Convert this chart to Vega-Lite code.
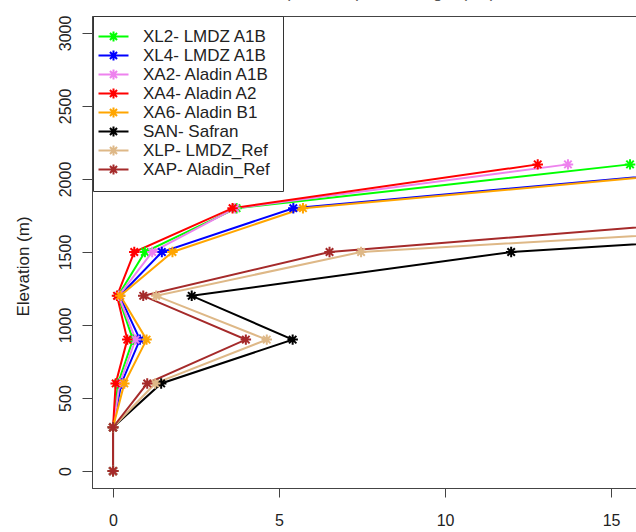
{
  "$schema": "https://vega.github.io/schema/vega-lite/v6.json",
  "autosize": {"type": "none"},
  "padding": {"left": 92, "top": 16, "right": -5, "bottom": 44},
  "width": 549,
  "height": 472,
  "title": {"text": "Mean (Nov-Mar) snow height (cm)", "fontSize": 17, "font": "Liberation Sans", "fontWeight": "normal", "color": "#555555", "offset": 0, "baseline": "alphabetic", "anchor": "middle"},
  "config": {
    "view": {"stroke": "#444444", "strokeWidth": 1},
    "font": "Liberation Sans",
    "axis": {"domainColor": "#444444", "tickColor": "#444444", "labelColor": "#222222", "labelFont": "Liberation Sans", "labelFontSize": 16, "grid": false}
  },
  "data": {"values": [
    {"series": "XL2- LMDZ A1B", "elev": 0, "snow": 0},
    {"series": "XL2- LMDZ A1B", "elev": 300, "snow": 0},
    {"series": "XL2- LMDZ A1B", "elev": 600, "snow": 0.15},
    {"series": "XL2- LMDZ A1B", "elev": 900, "snow": 0.6},
    {"series": "XL2- LMDZ A1B", "elev": 1200, "snow": 0.15},
    {"series": "XL2- LMDZ A1B", "elev": 1500, "snow": 0.96},
    {"series": "XL2- LMDZ A1B", "elev": 1800, "snow": 3.72},
    {"series": "XL2- LMDZ A1B", "elev": 2100, "snow": 15.57},
    {"series": "XL4- LMDZ A1B", "elev": 0, "snow": 0},
    {"series": "XL4- LMDZ A1B", "elev": 300, "snow": 0},
    {"series": "XL4- LMDZ A1B", "elev": 600, "snow": 0.25},
    {"series": "XL4- LMDZ A1B", "elev": 900, "snow": 0.81},
    {"series": "XL4- LMDZ A1B", "elev": 1200, "snow": 0.2},
    {"series": "XL4- LMDZ A1B", "elev": 1500, "snow": 1.47},
    {"series": "XL4- LMDZ A1B", "elev": 1800, "snow": 5.43},
    {"series": "XL4- LMDZ A1B", "elev": 2100, "snow": 20.0},
    {"series": "XA2- Aladin A1B", "elev": 0, "snow": 0},
    {"series": "XA2- Aladin A1B", "elev": 300, "snow": 0},
    {"series": "XA2- Aladin A1B", "elev": 600, "snow": 0.2},
    {"series": "XA2- Aladin A1B", "elev": 900, "snow": 0.68},
    {"series": "XA2- Aladin A1B", "elev": 1200, "snow": 0.17},
    {"series": "XA2- Aladin A1B", "elev": 1500, "snow": 1.18},
    {"series": "XA2- Aladin A1B", "elev": 1800, "snow": 3.68},
    {"series": "XA2- Aladin A1B", "elev": 2100, "snow": 13.7},
    {"series": "XA4- Aladin A2", "elev": 0, "snow": 0},
    {"series": "XA4- Aladin A2", "elev": 300, "snow": 0},
    {"series": "XA4- Aladin A2", "elev": 600, "snow": 0.08},
    {"series": "XA4- Aladin A2", "elev": 900, "snow": 0.43},
    {"series": "XA4- Aladin A2", "elev": 1200, "snow": 0.12},
    {"series": "XA4- Aladin A2", "elev": 1500, "snow": 0.64},
    {"series": "XA4- Aladin A2", "elev": 1800, "snow": 3.6},
    {"series": "XA4- Aladin A2", "elev": 2100, "snow": 12.79},
    {"series": "XA6- Aladin B1", "elev": 0, "snow": 0},
    {"series": "XA6- Aladin B1", "elev": 300, "snow": 0},
    {"series": "XA6- Aladin B1", "elev": 600, "snow": 0.34},
    {"series": "XA6- Aladin B1", "elev": 900, "snow": 1.01},
    {"series": "XA6- Aladin B1", "elev": 1200, "snow": 0.22},
    {"series": "XA6- Aladin B1", "elev": 1500, "snow": 1.79},
    {"series": "XA6- Aladin B1", "elev": 1800, "snow": 5.72},
    {"series": "XA6- Aladin B1", "elev": 2100, "snow": 20.3},
    {"series": "SAN- Safran", "elev": 0, "snow": 0},
    {"series": "SAN- Safran", "elev": 300, "snow": 0},
    {"series": "SAN- Safran", "elev": 600, "snow": 1.45},
    {"series": "SAN- Safran", "elev": 900, "snow": 5.41},
    {"series": "SAN- Safran", "elev": 1200, "snow": 2.37},
    {"series": "SAN- Safran", "elev": 1500, "snow": 11.99},
    {"series": "SAN- Safran", "elev": 1800, "snow": 33.0},
    {"series": "XLP- LMDZ_Ref", "elev": 0, "snow": 0},
    {"series": "XLP- LMDZ_Ref", "elev": 300, "snow": 0},
    {"series": "XLP- LMDZ_Ref", "elev": 600, "snow": 1.27},
    {"series": "XLP- LMDZ_Ref", "elev": 900, "snow": 4.63},
    {"series": "XLP- LMDZ_Ref", "elev": 1200, "snow": 1.3},
    {"series": "XLP- LMDZ_Ref", "elev": 1500, "snow": 7.47},
    {"series": "XLP- LMDZ_Ref", "elev": 1800, "snow": 30.0},
    {"series": "XAP- Aladin_Ref", "elev": 0, "snow": 0},
    {"series": "XAP- Aladin_Ref", "elev": 300, "snow": 0},
    {"series": "XAP- Aladin_Ref", "elev": 600, "snow": 1.03},
    {"series": "XAP- Aladin_Ref", "elev": 900, "snow": 4.0},
    {"series": "XAP- Aladin_Ref", "elev": 1200, "snow": 0.91},
    {"series": "XAP- Aladin_Ref", "elev": 1500, "snow": 6.52},
    {"series": "XAP- Aladin_Ref", "elev": 1800, "snow": 23.0}
  ]},
  "encoding": {
    "x": {"field": "snow", "type": "quantitative", "scale": {"domain": [-0.633, 15.9], "nice": false, "zero": false},
      "axis": {"values": [0, 5, 10, 15], "format": "d", "title": null, "tickSize": 9, "labelPadding": 15, "labelBaseline": "top"}},
    "y": {"field": "elev", "type": "quantitative", "scale": {"domain": [-116, 3116], "nice": false, "zero": false},
      "axis": {"values": [0, 500, 1000, 1500, 2000, 2500, 3000], "format": "d", "title": "Elevation (m)", "titleFont": "Liberation Sans", "titleFontSize": 17, "titleFontWeight": "normal", "titleColor": "#222222", "titleX": -60, "titleY": 250, "titleAlign": "center", "titleBaseline": "bottom", "titleAngle": -90, "tickSize": 10, "labelPadding": 12, "labelAngle": -90, "labelAlign": "center", "labelBaseline": "alphabetic"}},
    "color": {"field": "series", "type": "nominal",
      "scale": {"domain": ["XL2- LMDZ A1B", "XL4- LMDZ A1B", "XA2- Aladin A1B", "XA4- Aladin A2", "XA6- Aladin B1", "SAN- Safran", "XLP- LMDZ_Ref", "XAP- Aladin_Ref"],
        "range": ["#00ff00", "#0000ff", "#ee82ee", "#ff0000", "#ffa500", "#000000", "#deb887", "#a52a2a"]},
      "legend": {"orient": "none", "legendX": 1, "legendY": 0, "title": null, "strokeColor": "#333333", "fillColor": "white", "padding": 12,
        "labelFont": "Liberation Sans", "labelFontSize": 17, "labelColor": "#222222", "labelOffset": 21, "rowPadding": 0, "symbolLimit": 0,
        "symbolType": "M-3,0L3,0M0,-1L0,1M-0.71,-0.71L0.71,0.71M-0.71,0.71L0.71,-0.71", "symbolSize": 100, "symbolStrokeWidth": 2, "symbolFillColor": "transparent", "symbolOpacity": 1}}
  },
  "layer": [
    {"mark": {"type": "line", "strokeWidth": 2, "clip": true}, "encoding": {"order": {"field": "elev", "type": "quantitative"}}},
    {"mark": {"type": "point", "shape": "M-1,0L1,0M0,-1L0,1M-0.71,-0.71L0.71,0.71M-0.71,0.71L0.71,-0.71", "size": 110, "strokeWidth": 2, "filled": false, "opacity": 1, "clip": true}}
  ]
}
